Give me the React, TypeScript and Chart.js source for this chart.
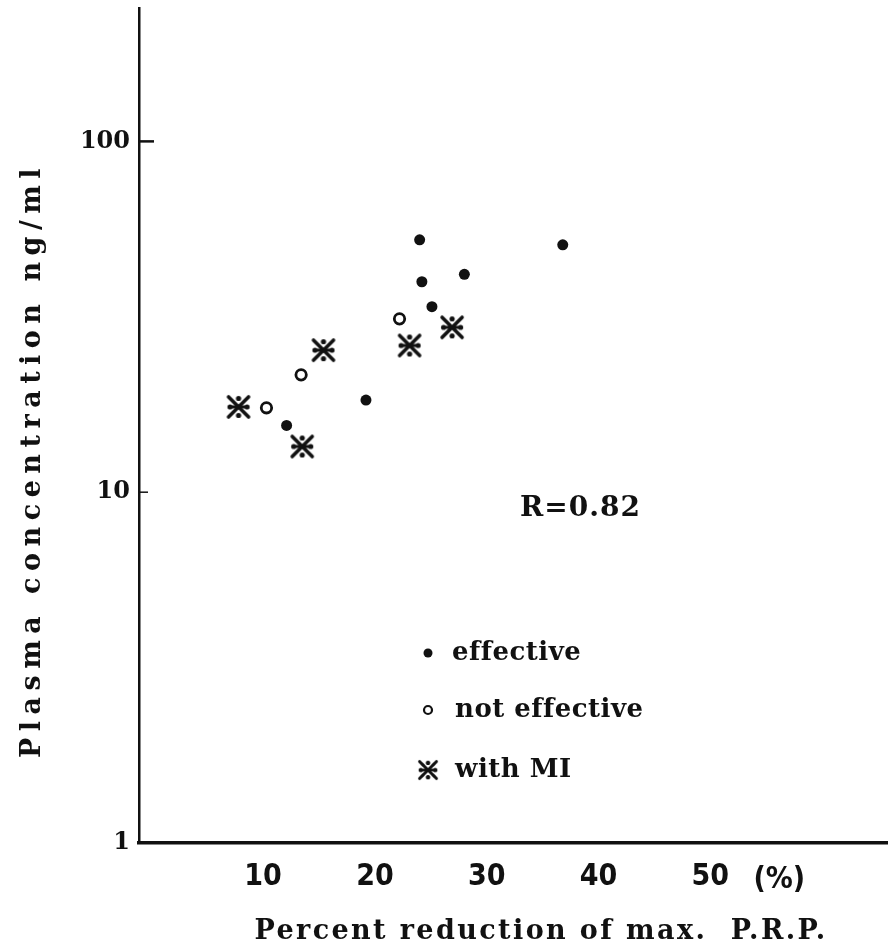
import React, { useEffect, useRef } from 'react';
import { Chart, registerables } from 'chart.js';

Chart.register(...registerables);

// ---- data ----
const effectiveX = [12.1, 19.2, 24.0, 24.2, 25.1, 28.0, 36.8];
const effectiveY = [15.5, 18.3, 52.4, 39.8, 33.8, 41.8, 50.7];
const notEffectiveX = [10.3, 13.4, 22.2];
const notEffectiveY = [17.4, 21.6, 31.2];
const withMIX = [7.8, 13.5, 15.4, 23.1, 26.9];
const withMIY = [17.5, 13.5, 25.4, 26.2, 29.5];
const xTicks = [10, 20, 30, 40, 50];
const yTicks = [1, 10, 100];
const legendLabels = ['effective', 'not effective', 'with MI'];
const xTitle = 'Percent reduction of max.  P.R.P.';
const yTitle = 'Plasma concentration ng/ml';
const rText = 'R=0.82';
const unitText = '(%)';

const INK = '#111';
const SERIF = "'DejaVu Serif', 'Liberation Serif', serif";
const NARROW = "'Liberation Sans Narrow', 'DejaVu Sans Condensed', 'Liberation Sans', sans-serif";

function makeMISymbol(): HTMLCanvasElement {
  const s = 26;
  const c = document.createElement('canvas');
  c.width = s;
  c.height = s;
  const g = c.getContext('2d')!;
  const m = s / 2;
  g.strokeStyle = INK;
  g.fillStyle = INK;
  g.lineWidth = 3.6;
  g.lineCap = 'round';
  g.beginPath();
  g.moveTo(3, 3); g.lineTo(s - 3, s - 3);
  g.moveTo(s - 3, 3); g.lineTo(3, s - 3);
  g.stroke();
  g.lineWidth = 2.8;
  g.beginPath();
  g.moveTo(m - 6, m); g.lineTo(m + 6, m);
  g.stroke();
  const d = 8.5;
  [[0, -d], [0, d], [-d, 0], [d, 0]].forEach(([dx, dy]) => {
    g.beginPath();
    g.arc(m + dx, m + dy, 2.6, 0, Math.PI * 2);
    g.fill();
  });
  return c;
}

export default function App() {
  const ref = useRef<HTMLCanvasElement>(null);

  useEffect(() => {
    const canvas = ref.current;
    if (!canvas) return;
    const mi = makeMISymbol();

    const overlay = {
      id: 'overlay',
      afterDraw(chart: any) {
        const ctx = chart.ctx as CanvasRenderingContext2D;
        const xs = chart.scales.x;
        const ys = chart.scales.y;
        const left = chart.chartArea.left;
        ctx.save();
        ctx.fillStyle = INK;
        ctx.strokeStyle = INK;

        // inward tick marks on y axis
        ctx.lineWidth = 2.5;
        const p100 = ys.getPixelForValue(100);
        ctx.beginPath(); ctx.moveTo(left, p100); ctx.lineTo(left + 15, p100); ctx.stroke();
        ctx.lineWidth = 1.5;
        const p10 = ys.getPixelForValue(10);
        ctx.beginPath(); ctx.moveTo(left, p10); ctx.lineTo(left + 9, p10); ctx.stroke();

        // (%) after last x tick
        ctx.font = `bold 30px ${NARROW}`;
        ctx.textAlign = 'center';
        ctx.textBaseline = 'middle';
        ctx.fillText(unitText, xs.getPixelForValue(50) + 69, 880);

        // x title
        ctx.font = `bold 27px ${SERIF}`;
        ctx.textAlign = 'center';
        ctx.textBaseline = 'middle';
        (ctx as any).letterSpacing = '2.4px';
        ctx.fillText(xTitle, 541, 932);

        // y title
        ctx.save();
        ctx.translate(33, 460);
        ctx.rotate(-Math.PI / 2);
        ctx.font = `bold 27px ${SERIF}`;
        (ctx as any).letterSpacing = '6.5px';
        ctx.fillText(yTitle, 0, 0);
        ctx.restore();

        // R value
        (ctx as any).letterSpacing = '1px';
        ctx.font = `bold 28px ${SERIF}`;
        ctx.textAlign = 'left';
        ctx.fillText(rText, 520, 509);

        // legend
        ctx.font = `bold 26px ${SERIF}`;
        (ctx as any).letterSpacing = '0.5px';
        const lx = 428;
        const rows = [653, 710, 770];
        // effective
        ctx.beginPath(); ctx.arc(lx, rows[0], 4.5, 0, Math.PI * 2); ctx.fill();
        ctx.fillText(legendLabels[0], 452, rows[0]);
        // not effective
        ctx.lineWidth = 2.2;
        ctx.beginPath(); ctx.arc(lx, rows[1], 4, 0, Math.PI * 2); ctx.stroke();
        ctx.fillText(legendLabels[1], 455, rows[1]);
        // with MI
        ctx.drawImage(mi, lx - 11, rows[2] - 11, 22, 22);
        ctx.fillText(legendLabels[2], 455, rows[2]);

        ctx.restore();
      },
    };

    const chart = new Chart(canvas, {
      type: 'scatter',
      data: {
        datasets: [
          {
            label: legendLabels[0],
            data: effectiveX.map((x, i) => ({ x, y: effectiveY[i] })),
            pointStyle: 'circle',
            pointRadius: 5.5,
            backgroundColor: INK,
            borderColor: INK,
            borderWidth: 0,
          },
          {
            label: legendLabels[1],
            data: notEffectiveX.map((x, i) => ({ x, y: notEffectiveY[i] })),
            pointStyle: 'circle',
            pointRadius: 5.2,
            backgroundColor: '#fff',
            borderColor: INK,
            borderWidth: 2.8,
          },
          {
            label: legendLabels[2],
            data: withMIX.map((x, i) => ({ x, y: withMIY[i] })),
            pointStyle: mi as any,
            pointRadius: 13,
            backgroundColor: INK,
            borderColor: INK,
          },
        ],
      },
      options: {
        animation: false,
        responsive: false,
        devicePixelRatio: 1,
        layout: { autoPadding: false, padding: { top: 8, right: 9, left: 0, bottom: 0 } },
        plugins: {
          legend: { display: false },
          tooltip: { enabled: false },
          title: { display: false },
        },
        scales: {
          x: {
            type: 'linear',
            min: -1.1,
            max: 65.8,
            afterBuildTicks: (scale: any) => {
              scale.ticks = xTicks.map((v) => ({ value: v }));
            },
            afterFit: (scale: any) => {
              scale.height = 108;
              scale.paddingLeft = 0;
              scale.paddingRight = 0;
            },
            grid: { display: true, drawOnChartArea: false, drawTicks: false },
            border: { display: true, color: INK, width: 3.5 },
            ticks: {
              padding: 16,
              color: INK,
              font: { family: NARROW, size: 30, weight: 'bold' },
              callback: (v: any) => String(v),
              maxRotation: 0,
              autoSkip: false,
            },
          },
          y: {
            type: 'logarithmic',
            min: 1,
            max: 240,
            afterBuildTicks: (scale: any) => {
              scale.ticks = yTicks.map((v) => ({ value: v }));
            },
            afterFit: (scale: any) => {
              scale.width = 139;
              scale.paddingTop = 0;
              scale.paddingBottom = 0;
            },
            grid: { display: true, drawOnChartArea: false, drawTicks: false },
            border: { display: true, color: INK, width: 2.5 },
            ticks: {
              padding: 9,
              color: INK,
              font: { family: SERIF, size: 24, weight: 'bold' },
              callback: (v: any) => String(v),
              autoSkip: false,
            },
          },
        },
      },
      plugins: [overlay],
    });

    return () => chart.destroy();
  }, []);

  return (
    <div style={{ position: 'absolute', left: 0, top: 0, width: 896, height: 951, background: '#fff' }}>
      <canvas ref={ref} width={896} height={951} style={{ display: 'block', width: 896, height: 951 }} />
    </div>
  );
}
